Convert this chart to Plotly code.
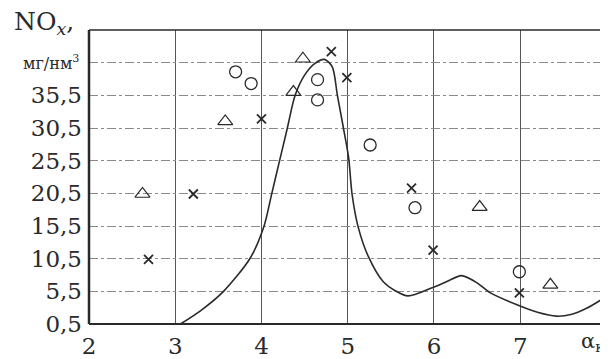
import plotly.graph_objects as go

# ---- data ----
x_ticks = [2, 3, 4, 5, 6, 7]
y_ticks = [0.5, 5.5, 10.5, 15.5, 20.5, 25.5, 30.5, 35.5, 40.5]
y_ticktext = ["0,5", "5,5", "10,5", "15,5", "20,5", "25,5", "30,5", "35,5", " "]

curve_x = [3.06, 3.3, 3.56, 3.87, 4.03, 4.12, 4.21, 4.30, 4.39, 4.50, 4.62, 4.73,
           4.82, 4.88, 4.95, 5.01, 5.05, 5.12, 5.24, 5.41, 5.55, 5.70, 5.97, 6.15,
           6.32, 6.5, 6.65, 6.97, 7.2, 7.42, 7.6, 7.77, 7.95]
curve_y = [0.5, 2.6, 5.5, 10.6, 15.5, 20.5, 25.5, 30.5, 35.5, 38.6, 40.4, 41.0,
           39.9, 35.5, 30.5, 26.0, 20.4, 15.4, 10.8, 7.0, 5.6, 4.8, 6.0, 7.0,
           7.9, 6.8, 5.3, 3.4, 2.3, 1.7, 2.0, 2.9, 4.3]

tri_x = [2.62, 3.58, 4.37, 4.48, 6.53, 7.35]
tri_y = [20.4, 31.5, 36.0, 41.1, 18.4, 6.5]

circ_x = [3.70, 3.88, 4.65, 4.65, 5.26, 5.78, 6.99]
circ_y = [39.1, 37.3, 37.9, 34.8, 27.9, 18.3, 8.5]

cross_x = [2.69, 3.21, 4.00, 4.81, 4.99, 5.74, 5.99, 6.99]
cross_y = [10.4, 20.4, 31.9, 42.2, 38.2, 21.3, 11.8, 5.25]

INK = "#2a2a2a"
FONT = "DejaVu Serif"

fig = go.Figure()
fig.add_trace(go.Scatter(x=curve_x, y=curve_y, mode="lines",
                         line=dict(color=INK, width=1.6, shape="spline", smoothing=0.8),
                         hoverinfo="skip"))
fig.add_trace(go.Scatter(x=tri_x, y=tri_y, mode="markers",
                         marker=dict(symbol="triangle-up-open", size=13, color=INK,
                                     line=dict(width=1.2, color=INK))))
fig.add_trace(go.Scatter(x=circ_x, y=circ_y, mode="markers",
                         marker=dict(symbol="circle-open", size=12, color=INK,
                                     line=dict(width=1.3, color=INK))))
fig.add_trace(go.Scatter(x=cross_x, y=cross_y, mode="markers",
                         marker=dict(symbol="x-thin-open", size=9, color=INK,
                                     line=dict(width=1.8, color=INK))))

# page body has an 8px margin: figure is shifted by 8px right and down
fig.update_layout(
    width=600, height=351,
    margin=dict(l=81, r=5, t=22, b=35),
    paper_bgcolor="white", plot_bgcolor="white",
    showlegend=False,
    font=dict(family=FONT, color=INK, size=23),
    xaxis=dict(range=[2, 7.96], tickvals=x_ticks, ticktext=[str(v) for v in x_ticks],
               showgrid=True, gridcolor="#555", gridwidth=1, zeroline=False,
               showline=False, ticks="", ticklabelstandoff=6, automargin=False,
               tickfont=dict(family=FONT, size=23, color=INK)),
    yaxis=dict(range=[0.5, 45.5], tickvals=y_ticks, ticktext=y_ticktext,
               showgrid=True, gridcolor="#8a8a8a", gridwidth=1, griddash="dashdot",
               zeroline=False, showline=False, ticks="", ticklabelstandoff=6,
               automargin=False,
               tickfont=dict(family=FONT, size=23, color=INK)),
    shapes=[
        dict(type="line", xref="paper", yref="paper", x0=0, x1=1, y0=1, y1=1,
             line=dict(color=INK, width=1.5)),
        dict(type="line", xref="paper", yref="paper", x0=1, x1=1, y0=0, y1=1,
             line=dict(color="#666", width=1.2)),
        dict(type="line", xref="paper", yref="paper", x0=0, x1=1, y0=0, y1=0,
             line=dict(color=INK, width=2.2)),
        dict(type="line", xref="paper", yref="paper", x0=0, x1=0, y0=0, y1=1,
             line=dict(color=INK, width=2.5)),
    ],
    annotations=[
        dict(text="NO<sub><i>x</i></sub>,", xref="paper", yref="paper",
             x=-0.150, y=1.025, xanchor="left", yanchor="middle", showarrow=False,
             font=dict(family=FONT, size=25, color=INK)),
        dict(text="мг/нм<sup>3</sup>", xref="paper", yref="paper",
             x=-0.016, y=0.89, xanchor="right", yanchor="middle", showarrow=False,
             font=dict(family=FONT, size=16, color=INK)),
        dict(text="α<sub>к</sub>", xref="paper", yref="paper",
             x=1.006, y=-0.062, xanchor="right", yanchor="middle", showarrow=False,
             font=dict(family=FONT, size=21, color=INK)),
    ],
)

fig.write_html("out.html")
